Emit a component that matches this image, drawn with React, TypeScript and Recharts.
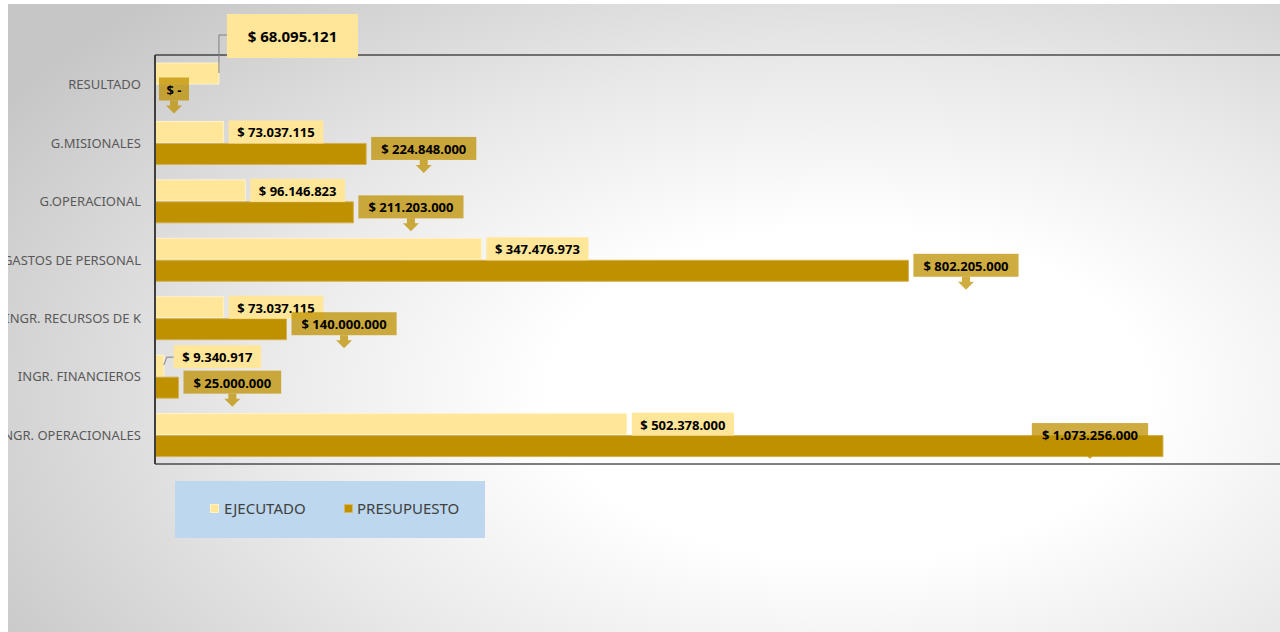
import React from "react"
import {
  BarChart,
  Bar,
  XAxis,
  YAxis,
  LabelList,
  Legend,
  ReferenceArea,
} from "recharts"

const categories = [
  "RESULTADO",
  "G.MISIONALES",
  "G.OPERACIONAL",
  "GASTOS DE PERSONAL",
  "INGR. RECURSOS DE K",
  "INGR. FINANCIEROS",
  "INGR. OPERACIONALES",
]
const ejecutado = [68095121, 73037115, 96146823, 347476973, 73037115, 9340917, 502378000]
const presupuesto = [0, 224848000, 211203000, 802205000, 140000000, 25000000, 1073256000]

const data = categories.map((name, i) => ({
  name,
  ejecutado: ejecutado[i],
  presupuesto: presupuesto[i],
}))

const FONT = "'Noto Sans', 'Open Sans', sans-serif"
const LIGHT = "#FFE699"
const GOLD = "#BF9000"

const fmt = (v: number) =>
  v === 0 ? "$ -" : "$ " + v.toString().replace(/\B(?=(\d{3})+(?!\d))/g, ".")

// rough width of bold Noto Sans text
const textWidth = (s: string, size: number) => {
  let w = 0
  for (const c of s) {
    if (c >= "0" && c <= "9") w += 0.572
    else if (c === ".") w += 0.285
    else if (c === "$") w += 0.572
    else if (c === " ") w += 0.26
    else w += 0.32
  }
  return w * size
}

const box = (props: any) => {
  const vb = props.viewBox || props
  return { x: vb.x, y: vb.y, w: vb.width, h: vb.height, v: props.value }
}

// callout with a down arrow, used for PRESUPUESTO
const Callout = ({ bx, by, bw, text }: { bx: number; by: number; bw: number; text: string }) => {
  const cx = bx + bw / 2
  const bb = by + 23
  const arrow = `M${cx - 4},${bb} V${bb + 5} H${cx - 8} L${cx},${bb + 13} L${cx + 8},${bb + 5} H${cx + 4} V${bb} Z`
  return (
    <g>
      <rect x={bx} y={by} width={bw} height={23} fill={GOLD} fillOpacity={0.75} />
      <path d={arrow} fill={GOLD} fillOpacity={0.75} />
      <text x={cx} y={by + 12} textAnchor="middle" dominantBaseline="central"
        fontFamily={FONT} fontWeight={700} fontSize={13} fill="#000">{text}</text>
    </g>
  )
}

const EjecutadoLabel = (props: any) => {
  const { x, y, w, h, v } = box(props)
  const end = x + w
  const text = fmt(v)
  if (v === ejecutado[0]) {
    const bx = end + 8
    const by = y - 49
    // presupuesto of RESULTADO is zero, its bar has no rect: place its callout here
    const pcy = y + h + 1 + h / 2
    return (
      <g>
        <path d={`M${end},${y + 10} V${by + 21} H${bx}`} stroke="#7f7f7f" fill="none" strokeWidth={1} />
        <rect x={bx} y={by} width={131} height={44} fill={LIGHT} />
        <text x={bx + 65.5} y={by + 22} textAnchor="middle" dominantBaseline="central"
          fontFamily={FONT} fontWeight={700} fontSize={15} fill="#000">{text}</text>
        <Callout bx={x + 4} by={pcy - 18} bw={30} text={fmt(presupuesto[0])} />
      </g>
    )
  }
  const bw = textWidth(text, 13) + 17
  let bx = end + 5
  let by = y - 1
  let leader = null
  if (v === ejecutado[5]) {
    bx = end + 10
    by = y - 10
    leader = <path d={`M${end},${y + 10} L${end + 3},${y + 2} H${bx}`} stroke="#7f7f7f" fill="none" strokeWidth={1} />
  }
  return (
    <g>
      {leader}
      <rect x={bx} y={by} width={bw} height={23} fill={LIGHT} />
      <text x={bx + bw / 2} y={by + 12} textAnchor="middle" dominantBaseline="central"
        fontFamily={FONT} fontWeight={700} fontSize={13} fill="#000">{text}</text>
    </g>
  )
}

const PresupuestoLabel = (props: any) => {
  const { x, y, w, h, v } = box(props)
  if (!v) return null
  const end = x + w
  const cy = y + h / 2
  const text = fmt(v)
  const bw = textWidth(text, 13) + 20
  let bx = end + 5
  let by = cy - 17
  if (v === presupuesto[6]) {
    bx = end - 73 - bw / 2
    by = cy - 23
  }
  return <Callout bx={bx} by={by} bw={bw} text={text} />
}

const CategoryTick = (props: any) => {
  const { x, y, payload } = props
  return (
    <text x={x} y={y} textAnchor="end" dominantBaseline="central"
      fontFamily={FONT} fontSize={13} fill="#595959">{payload.value}</text>
  )
}

const LegendBox = () => (
  <div
    style={{
      width: 310,
      height: 57,
      background: "#BDD7EE",
      position: "relative",
      fontFamily: FONT,
      fontSize: 15,
      color: "#404040",
    }}
  >
    <div style={{ position: "absolute", left: 35, top: 23, width: 9, height: 9, background: LIGHT, border: "1px solid #fff2c8", boxSizing: "border-box" }} />
    <div style={{ position: "absolute", left: 49, top: 17, lineHeight: "20px" }}>EJECUTADO</div>
    <div style={{ position: "absolute", left: 169, top: 23, width: 9, height: 9, background: GOLD, border: "1px solid #d9b85a", boxSizing: "border-box" }} />
    <div style={{ position: "absolute", left: 182, top: 17, lineHeight: "20px" }}>PRESUPUESTO</div>
  </div>
)

export default function App() {
  return (
    <div style={{ position: "fixed", left: 0, top: 0, width: 1280, height: 632, background: "#fff", overflow: "hidden" }}>
      <div
        style={{
          position: "absolute",
          left: 8,
          top: 4,
          width: 1272,
          height: 628,
          overflow: "hidden",
          background:
            "radial-gradient(ellipse 78% 88% at 66% 62%, #ffffff 0%, #ffffff 30%, #e9e9e9 60%, #c6c6c6 100%)",
        }}
      >
        <BarChart
          width={1290}
          height={628}
          data={data}
          layout="vertical"
          margin={{ top: 51, right: 16, bottom: 111, left: 0 }}
          barSize={21}
          barGap={1}
        >
          <XAxis type="number" hide domain={[0, 1200000000]} />
          <YAxis
            type="category"
            dataKey="name"
            width={147}
            tickLine={false}
            tickSize={0}
            tickMargin={14}
            axisLine={{ stroke: "#3f3f3f", strokeWidth: 2 }}
            tick={<CategoryTick />}
            interval={0}
          />
          <ReferenceArea x1={0} x2={1200000000} stroke="#000" strokeWidth={1} fill="none" fillOpacity={0} />
          <Legend
            content={<LegendBox />}
            wrapperStyle={{ position: "absolute", left: 167, top: 477, width: 310, height: 57 }}
          />
          <Bar dataKey="ejecutado" fill={LIGHT} stroke="#fff3c8" strokeWidth={1} isAnimationActive={false}>
            <LabelList dataKey="ejecutado" content={<EjecutadoLabel />} />
          </Bar>
          <Bar dataKey="presupuesto" fill={GOLD} stroke="#d4b04f" strokeWidth={1} isAnimationActive={false}>
            <LabelList dataKey="presupuesto" content={<PresupuestoLabel />} />
          </Bar>
        </BarChart>
      </div>
    </div>
  )
}
